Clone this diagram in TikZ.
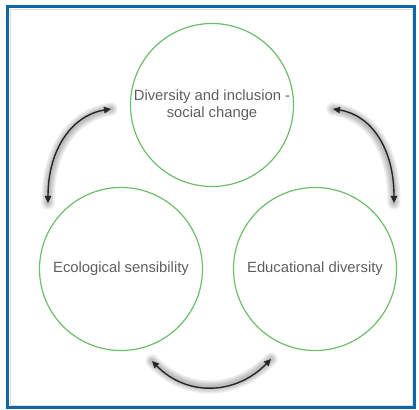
\documentclass[tikz,border=0pt]{standalone}
\usepackage{fontspec}
\setmainfont{Liberation Sans}
\usetikzlibrary{arrows.meta}
\definecolor{frameblue}{HTML}{0E66A4}
\definecolor{ringgreen}{HTML}{6DBE6A}
\definecolor{txtgray}{HTML}{5E5E5E}
\definecolor{arrowdark}{HTML}{262626}
\begin{document}
\begin{tikzpicture}[x=1pt,y=1pt,
  ring/.style={circle,draw=ringgreen,line width=1.2pt,minimum size=163pt,inner sep=0pt,
    align=center,text=txtgray,font=\fontsize{14.8}{17}\selectfont},
  link/.style={draw=arrowdark,line width=1.4pt,
    {Triangle[length=7pt,width=6.5pt]}-{Triangle[length=7pt,width=6.5pt]}},
  glow/.style={draw=black,line cap=round,opacity=0.07}]
\useasboundingbox (0,0) rectangle (419,409);
\draw[frameblue,line width=3pt] (7.5,1.5) rectangle (414.5,402.5);
\draw[gray!25,line width=0.5pt] (9.8,3.8) rectangle (412.2,400.2);
\node[ring] (top) at (212,304) {Diversity and inclusion -\\social change};
\node[ring] (left) at (121,140) {Ecological sensibility};
\node[ring] (right) at (315,140) {Educational diversity};
\coordinate (la) at (111,300);
\coordinate (lb) at (48,206);
\coordinate (ra) at (333,300);
\coordinate (rb) at (394,206);
\coordinate (bl) at (152,48);
\coordinate (br) at (271,50);
\foreach \w in {13,10,7,4}{
  \draw[glow,line width=\w pt,shift={(3,7)}] (lb) .. controls +(0,55) and +(-38,-6) .. (la);
  \draw[glow,line width=\w pt,shift={(-3,7)}] (ra) .. controls +(38,-6) and +(0,55) .. (rb);
  \draw[glow,line width=\w pt,shift={(0,8)}] (bl) .. controls +(35,-36) and +(-35,-36) .. (br);
}
\draw[link] (lb) .. controls +(0,55) and +(-38,-6) .. (la);
\draw[link] (ra) .. controls +(38,-6) and +(0,55) .. (rb);
\draw[link] (bl) .. controls +(35,-36) and +(-35,-36) .. (br);
\end{tikzpicture}
\end{document}
